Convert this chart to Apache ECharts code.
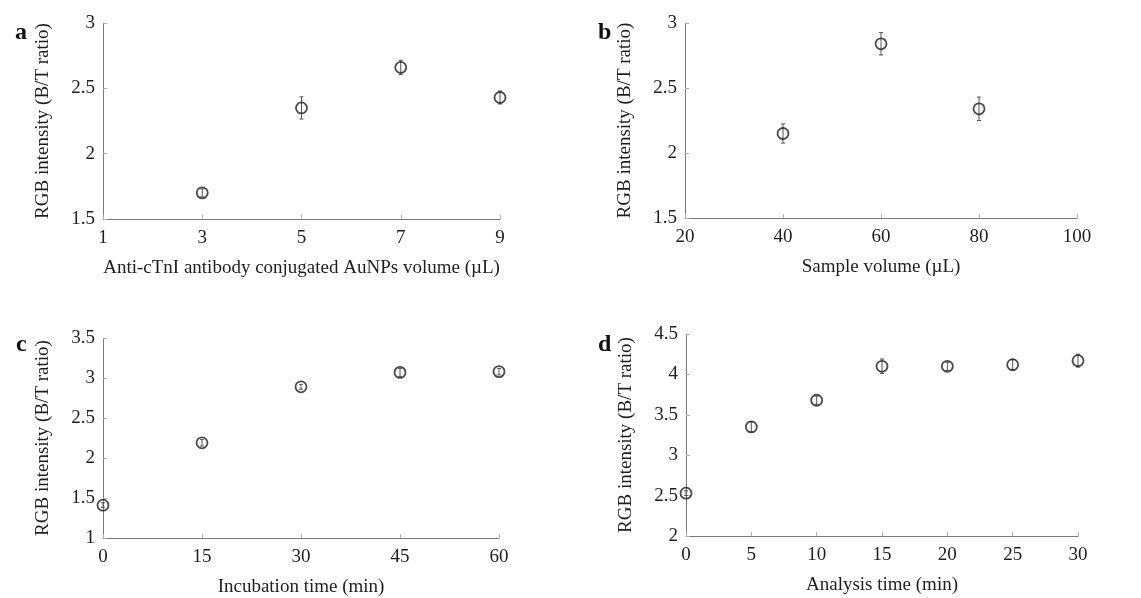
<!DOCTYPE html>
<html>
<head>
<meta charset="utf-8">
<script src="https://cdn.jsdelivr.net/npm/echarts@6/dist/echarts.min.js"></script>
<style>
  html, body { margin: 0; padding: 0; background: #fff; }
  #chart { width: 1141px; height: 598px; }
</style>
</head>
<body>
<div id="chart"></div>
<script>
// Panel a: antibody-conjugated AuNPs volume
const volAuNP = [3, 5, 7, 9];
const ratioA = [1.70, 2.35, 2.66, 2.43];
const errA = [0.03, 0.085, 0.055, 0.05];
const ticksA = [1, 3, 5, 7, 9];

// Panel b: sample volume
const volSample = [40, 60, 80];
const ratioB = [2.15, 2.84, 2.34];
const errB = [0.074, 0.086, 0.09];

// Panel c: incubation time
const incubTime = [0, 15, 30, 45, 60];
const ratioC = [1.41, 2.19, 2.89, 3.07, 3.08];
const errC = [0.03, 0.04, 0.03, 0.05, 0.04];

// Panel d: analysis time
const analysisTime = [0, 5, 10, 15, 20, 25, 30];
const ratioD = [2.53, 3.35, 3.68, 4.10, 4.10, 4.12, 4.17];
const errD = [0.03, 0.06, 0.05, 0.09, 0.05, 0.06, 0.08];

const FONT = '"Liberation Serif", "Times New Roman", serif';
const TEXT = '#1e1e1e';
const AXIS = '#7a7a7a';
const TICK = '#b0b0b0';
const yName = 'RGB intensity (B/T ratio)';

function zip(xs, ys) { return xs.map((x, i) => [x, ys[i]]); }
function zipErr(xs, ys, es) { return xs.map((x, i) => [x, ys[i] - es[i], ys[i] + es[i]]); }

function xAxisOf(idx, name, min, max, interval, extra) {
  return Object.assign({
    gridIndex: idx, type: 'value', min, max, interval,
    name, nameLocation: 'middle', nameGap: 40,
    nameTextStyle: { fontFamily: FONT, fontSize: 19, color: TEXT },
    axisLine: { show: true, lineStyle: { color: AXIS, width: 1 } },
    axisTick: { show: true, inside: true, length: 4, lineStyle: { color: TICK } },
    axisLabel: { fontFamily: FONT, fontSize: 19, color: TEXT, margin: 10 },
    splitLine: { show: false }
  }, extra || {});
}
function yAxisOf(idx, min, max, interval) {
  return {
    gridIndex: idx, type: 'value', min, max, interval,
    name: yName, nameLocation: 'middle', nameGap: 50,
    nameTextStyle: { fontFamily: FONT, fontSize: 19, color: TEXT },
    axisLine: { show: true, lineStyle: { color: AXIS, width: 1 } },
    axisTick: { show: true, inside: true, length: 4, lineStyle: { color: TICK } },
    axisLabel: { fontFamily: FONT, fontSize: 19, color: TEXT, margin: 8 },
    splitLine: { show: false }
  };
}

// vertical error bar with short caps, drawn through the axis scales
function errorSeries(idx, data) {
  return {
    type: 'custom', xAxisIndex: idx, yAxisIndex: idx, z: 3, silent: true,
    data,
    renderItem: function (params, api) {
      const x = api.value(0);
      const lo = api.coord([x, api.value(1)]);
      const hi = api.coord([x, api.value(2)]);
      const cap = 2;
      const style = { stroke: '#555', lineWidth: 1 };
      return {
        type: 'group',
        children: [
          { type: 'line', shape: { x1: lo[0], y1: lo[1], x2: hi[0], y2: hi[1] }, style },
          { type: 'line', shape: { x1: lo[0] - cap, y1: lo[1], x2: lo[0] + cap, y2: lo[1] }, style },
          { type: 'line', shape: { x1: hi[0] - cap, y1: hi[1], x2: hi[0] + cap, y2: hi[1] }, style }
        ]
      };
    }
  };
}
function pointSeries(idx, data) {
  return {
    type: 'scatter', xAxisIndex: idx, yAxisIndex: idx, z: 4, silent: true,
    symbol: 'circle', symbolSize: 11, data,
    itemStyle: { color: 'rgba(0,0,0,0)', borderColor: '#1e1e1e', borderWidth: 1.8 }
  };
}

function letter(text, left, top) {
  return { text, left, top, textStyle: { fontFamily: FONT, fontSize: 24, fontWeight: 'bold', color: '#111' } };
}

const chart = echarts.init(document.getElementById('chart'), null, { renderer: 'canvas' });
chart.setOption({
  backgroundColor: '#fff',
  animation: false,
  title: [
    letter('a', 10, 16),
    letter('b', 593, 16),
    letter('c', 11, 328),
    letter('d', 593, 328)
  ],
  grid: [
    { left: 103, top: 23, width: 397, height: 196 },
    { left: 685, top: 23, width: 392, height: 195 },
    { left: 103, top: 338, width: 396, height: 200 },
    { left: 686, top: 334, width: 392, height: 202 }
  ],
  xAxis: [
    xAxisOf(0, 'Anti-cTnI antibody conjugated AuNPs volume (\u00b5L)', 1, 9, 1, {
      axisLabel: { fontFamily: FONT, fontSize: 19, color: TEXT, margin: 10, customValues: ticksA },
      axisTick: { show: true, inside: true, length: 4, lineStyle: { color: TICK }, customValues: ticksA }
    }),
    xAxisOf(1, 'Sample volume (\u00b5L)', 20, 100, 20),
    xAxisOf(2, 'Incubation time (min)', 0, 60, 15),
    xAxisOf(3, 'Analysis time (min)', 0, 30, 5)
  ],
  yAxis: [
    yAxisOf(0, 1.5, 3, 0.5),
    yAxisOf(1, 1.5, 3, 0.5),
    yAxisOf(2, 1, 3.5, 0.5),
    yAxisOf(3, 2, 4.5, 0.5)
  ],
  series: [
    errorSeries(0, zipErr(volAuNP, ratioA, errA)),
    pointSeries(0, zip(volAuNP, ratioA)),
    errorSeries(1, zipErr(volSample, ratioB, errB)),
    pointSeries(1, zip(volSample, ratioB)),
    errorSeries(2, zipErr(incubTime, ratioC, errC)),
    pointSeries(2, zip(incubTime, ratioC)),
    errorSeries(3, zipErr(analysisTime, ratioD, errD)),
    pointSeries(3, zip(analysisTime, ratioD))
  ]
});
</script>
</body>
</html>
